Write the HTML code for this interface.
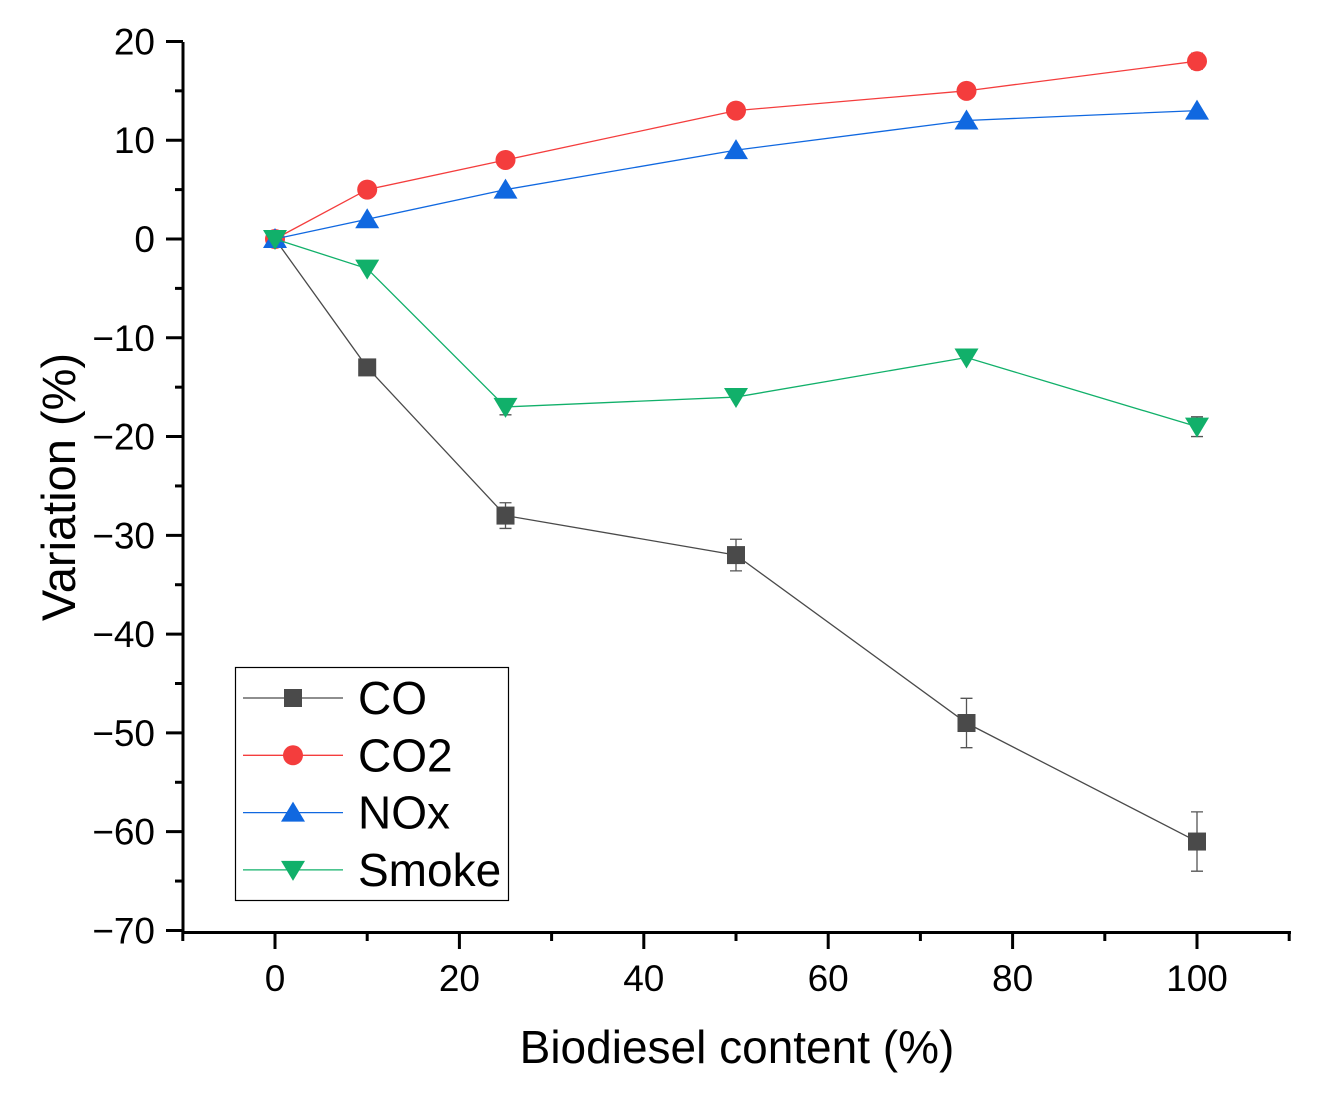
<!DOCTYPE html>
<html><head><meta charset="utf-8"><style>
body{margin:0;background:#fff}
svg{display:block;font-family:"Liberation Sans",Arial,sans-serif}
</style></head><body>
<svg id="chart" width="1321" height="1095" viewBox="0 0 1321 1095">
<g id="axes"></g><g id="plot"></g>
<g>
<rect x="235.5" y="667.5" width="273" height="233" fill="#fff" stroke="#000" stroke-width="1.2"/>
<g id="legend"></g>
</g>
<text x="737" y="1063" font-size="46" text-anchor="middle">Biodiesel content (%)</text>
<text transform="translate(75,487) rotate(-90)" font-size="47" text-anchor="middle">Variation (%)</text>
</svg>
<script>
const xValues=[0,10,25,50,75,100];
const coValues=[0,-13,-28,-32,-49,-61];
const coErr=[0,0,1.3,1.6,2.5,3];
const co2Values=[0,5,8,13,15,18];
const co2Err=[0,0,0,0,0,0.8];
const noxValues=[0,2,5,9,12,13];
const noxErr=[0,0,0,0,0,0];
const smokeValues=[0,-3,-17,-16,-12,-19];
const smokeErr=[0,0,0.8,0,0,1];
const xTicks=[0,20,40,60,80,100];
const yTicks=[20,10,0,-10,-20,-30,-40,-50,-60,-70];
const seriesNames=["CO","CO2","NOx","Smoke"];

const NS="http://www.w3.org/2000/svg";
const X=v=>275+(v-0)*(1197-275)/100;
const Y=v=>239-(v)*(931-42)/90;
function mk(tag,attrs,parent){const e=document.createElementNS(NS,tag);for(const k in attrs)e.setAttribute(k,attrs[k]);parent.appendChild(e);return e;}
const axes=document.getElementById('axes'),plot=document.getElementById('plot'),leg=document.getElementById('legend');
let a=mk('line',{x1:183,y1:42,x2:183,y2:934,stroke:'#000','stroke-width':3},axes);

a=mk('line',{x1:182,y1:932.5,x2:1291,y2:932.5,stroke:'#000','stroke-width':3},axes);

for(let v=-10;v<=110;v+=10){const major=v%20===0;
 const t=mk('line',{x1:X(v),y1:932,x2:X(v),y2:major?949:941,stroke:'#000','stroke-width':3},axes);
 }
xTicks.forEach(v=>{const t=mk('text',{x:X(v),y:991,'font-size':37,'text-anchor':'middle'},axes);t.textContent=v;
 });
for(let v=-70;v<=20;v+=5){const major=v%10===0;
 const t=mk('line',{x1:major?166:175,y1:Y(v),x2:183,y2:Y(v),stroke:'#000','stroke-width':3},axes);
 }
yTicks.forEach(v=>{const t=mk('text',{x:155,y:Y(v)+13,'font-size':37,'text-anchor':'end'},axes);t.textContent=v<0?'\u2212'+(-v):v;
 });

function marker(kind,cx,cy,color,parent){
 let m;
 if(kind==='square')m=mk('rect',{x:cx-9,y:cy-9,width:18,height:18,fill:color},parent);
 else if(kind==='circle')m=mk('circle',{cx:cx,cy:cy,r:10,fill:color},parent);
 else if(kind==='up')m=mk('polygon',{points:`${cx},${cy-11} ${cx-12},${cy+9} ${cx+12},${cy+9}`,fill:color},parent);
 else m=mk('polygon',{points:`${cx},${cy+11} ${cx-12},${cy-9} ${cx+12},${cy-9}`,fill:color},parent);
 return m;}
const series=[
 {name:'co',vals:coValues,err:coErr,color:'#4a4a4a',kind:'square'},
 {name:'co2',vals:co2Values,err:co2Err,color:'#f43d3d',kind:'circle'},
 {name:'nox',vals:noxValues,err:noxErr,color:'#1068e0',kind:'up'},
 {name:'smoke',vals:smokeValues,err:smokeErr,color:'#11b06a',kind:'down'}];
series.forEach((s,si)=>{
 const g=mk('g',{},plot);
 
 const pl=mk('polyline',{points:xValues.map((x,i)=>X(x)+','+Y(s.vals[i])).join(' '),fill:'none',stroke:s.color,'stroke-width':1.3},g);
 
 xValues.forEach((x,i)=>{
  if(s.err[i]>0){const cx=X(x),y1=Y(s.vals[i]+s.err[i]),y2=Y(s.vals[i]-s.err[i]);
   const e=mk('path',{d:`M${cx},${y1}V${y2}M${cx-6},${y1}H${cx+6}M${cx-6},${y2}H${cx+6}`,stroke:'#555','stroke-width':1.3,fill:'none'},g);
   }
  const m=marker(s.kind,X(x),Y(s.vals[i]),s.color,g);
  
 });
 const ly=698+si*57.3;
 const lg=mk('g',{},leg);
 
 mk('line',{x1:243,y1:ly,x2:343,y2:ly,stroke:s.color,'stroke-width':1.3},lg);
 marker(s.kind,293,ly,s.color,lg);
 const t=mk('text',{x:358,y:ly+16,'font-size':46},lg);t.textContent=seriesNames[si];
});
</script>
</body></html>
